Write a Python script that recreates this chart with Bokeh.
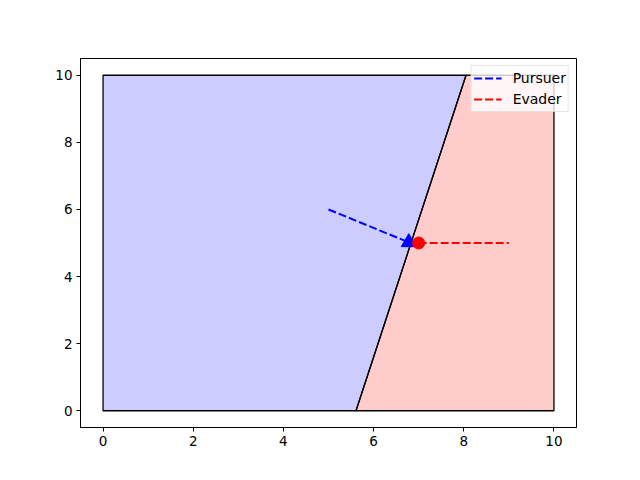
from bokeh.plotting import figure
from bokeh.models import Range1d, FixedTicker, Legend, LegendItem
from bokeh.embed import file_html
from bokeh.resources import INLINE

# data
tick_values = [0, 2, 4, 6, 8, 10]
blue_region_x = [0, 0, 8.05, 5.61]
blue_region_y = [0, 10, 10, 0]
red_region_x = [5.61, 10, 10, 8.05]
red_region_y = [0, 0, 10, 10]
pursuer_x = [5.0, 6.78]
pursuer_y = [6.0, 5.02]
evader_x = [7.0, 9.0]
evader_y = [5.0, 5.0]

p = figure(width=632, height=472, output_backend="svg", toolbar_location=None,
           x_range=Range1d(-0.5, 10.5), y_range=Range1d(-0.5, 10.5),
           min_border_left=80, min_border_right=56, min_border_top=58, min_border_bottom=45)
p.xgrid.visible = False
p.ygrid.visible = False
p.outline_line_color = "black"
p.outline_line_width = 1
p.background_fill_color = "white"
p.border_fill_color = "white"

for ax in (p.xaxis[0], p.yaxis[0]):
    ax.ticker = FixedTicker(ticks=tick_values)
    ax.major_tick_in = 0
    ax.major_tick_out = 4
    ax.minor_tick_line_color = None
    ax.axis_line_color = "black"
    ax.major_tick_line_color = "black"
    ax.major_label_text_font = "DejaVu Sans"
    ax.major_label_text_font_size = "13.5px"
    ax.major_label_text_color = "black"
    ax.major_label_standoff = 4

p.patch(blue_region_x, blue_region_y, fill_color="blue", fill_alpha=0.2,
        line_color="black", line_width=1.3)
p.patch(red_region_x, red_region_y, fill_color="red", fill_alpha=0.2,
        line_color="black", line_width=1.3)

r1 = p.line(pursuer_x, pursuer_y, line_color="blue", line_width=2, line_dash="8 3")
r2 = p.line(evader_x, evader_y, line_color="red", line_width=2, line_dash="8 3")
p.scatter([pursuer_x[-1]], [pursuer_y[-1]], marker="triangle", size=15,
          fill_color="blue", line_color="blue")
p.scatter([evader_x[0]], [evader_y[0]], marker="circle", size=12,
          fill_color="red", line_color="red")

legend = Legend(items=[LegendItem(label="Pursuer", renderers=[r1]),
                       LegendItem(label="Evader", renderers=[r2])],
                location="top_right", margin=7, padding=2, spacing=1,
                glyph_width=28, glyph_height=20, label_height=20,
                label_standoff=11, label_text_font="DejaVu Sans",
                label_text_font_size="14px", label_text_color="black",
                border_line_color="#cccccc", background_fill_alpha=0.8)
p.add_layout(legend)

open("out.html", "w").write(file_html(p, INLINE))
